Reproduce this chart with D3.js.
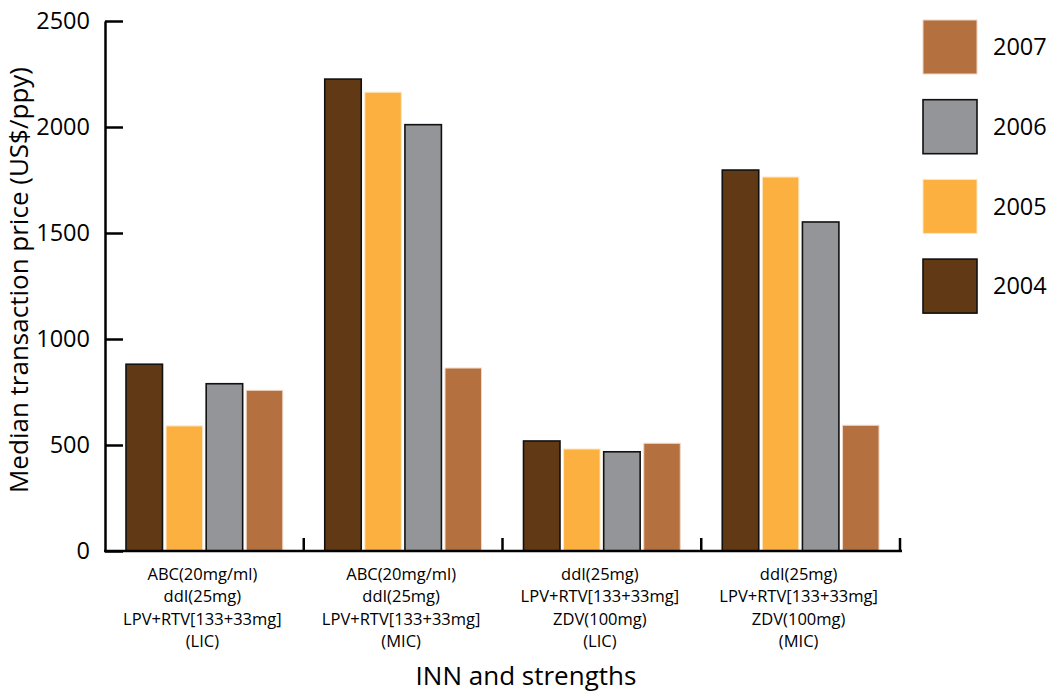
<!DOCTYPE html>
<html>
<head>
<meta charset="utf-8">
<script src="https://cdn.jsdelivr.net/npm/d3@7"></script>
<style>
  html, body { margin: 0; padding: 0; background: #fff; }
  svg { display: block; font-family: "Open Sans", "Noto Sans", sans-serif; }
</style>
</head>
<body>
<svg id="chart" width="1049" height="692"></svg>
<script>
const categories = [
  ["ABC(20mg/ml)", "ddI(25mg)", "LPV+RTV[133+33mg]", "(LIC)"],
  ["ABC(20mg/ml)", "ddI(25mg)", "LPV+RTV[133+33mg]", "(MIC)"],
  ["ddI(25mg)", "LPV+RTV[133+33mg]", "ZDV(100mg)", "(LIC)"],
  ["ddI(25mg)", "LPV+RTV[133+33mg]", "ZDV(100mg)", "(MIC)"]
];
const years = ["2004", "2005", "2006", "2007"];
const values2004 = [881, 2226, 519, 1797];
const values2005 = [590, 2164, 481, 1764];
const values2006 = [789, 2011, 468, 1552];
const values2007 = [758, 863, 508, 593];
const yTicks = [0, 500, 1000, 1500, 2000, 2500];
const colors = ["#613914", "#FBB040", "#939598", "#B5703F"];
const strokes = ["#111", "#fde6c4", "#111", "#f0d6c4"];

const series = [values2004, values2005, values2006, values2007];
const catIds = categories.map((c, i) => "c" + i);

const svg = d3.select("#chart");
const mLeft = 105, mRight = 900, mTop = 21, mBottom = 551;

const x = d3.scaleBand().domain(catIds).range([mLeft, mRight]).paddingInner(0).paddingOuter(0);
const bw = x.bandwidth();
const x1 = d3.scaleBand().domain(years).range([21, bw - 21]).paddingInner(0.09).paddingOuter(0);
const y = d3.scaleLinear().domain([0, 2500]).range([mBottom, mTop]);

// bars
const groups = svg.append("g").selectAll("g").data(catIds).join("g")
  .attr("transform", d => `translate(${x(d)},0)`);
groups.selectAll("rect").data((d, i) => years.map((yr, j) => ({yr, j, v: series[j][i]})))
  .join("rect")
  .attr("x", d => x1(d.yr))
  .attr("y", d => y(d.v))
  .attr("width", x1.bandwidth())
  .attr("height", d => y(0) - y(d.v))
  .attr("fill", d => colors[d.j])
  .attr("stroke", d => strokes[d.j])
  .attr("stroke-width", d => (d.j === 0 || d.j === 2) ? 1.6 : 1);

// y axis
const yAxis = d3.axisLeft(y).tickValues(yTicks).tickSizeInner(-18).tickSizeOuter(0).tickPadding(15)
  .tickFormat(d3.format("d"));
const gy = svg.append("g").attr("transform", `translate(${mLeft},0)`).call(yAxis);
gy.select(".domain").attr("stroke", "#000").attr("stroke-width", 2.5);
gy.selectAll(".tick line").attr("stroke", "#000").attr("stroke-width", 2.5);
gy.selectAll(".tick text").attr("font-size", 23.5).attr("fill", "#000")
  .attr("font-family", "'Open Sans', sans-serif");

// x axis
const xAxis = d3.axisBottom(x).tickSize(0).tickFormat("");
const gx = svg.append("g").attr("transform", `translate(0,${mBottom})`).call(xAxis);
gx.select(".domain").attr("stroke", "#000").attr("stroke-width", 2.5)
  .attr("d", `M${mLeft - 1},0H${mRight + 2}`);
gx.selectAll(".tick line").remove();
gx.selectAll(".bnd").data(catIds).join("line")
  .attr("class", "bnd")
  .attr("x1", d => x(d) + bw).attr("x2", d => x(d) + bw)
  .attr("y1", 0).attr("y2", -13)
  .attr("stroke", "#000").attr("stroke-width", 2.5);

// category labels
const lab = svg.append("g").selectAll("text").data(catIds).join("text")
  .attr("x", d => x(d) + bw / 2 - 2)
  .attr("y", 580)
  .attr("text-anchor", "middle")
  .attr("font-size", 16.5)
  .attr("fill", "#000");
lab.selectAll("tspan").data((d, i) => categories[i]).join("tspan")
  .attr("x", function() { return d3.select(this.parentNode).attr("x"); })
  .attr("dy", (d, i) => i === 0 ? 0 : 22.4)
  .text(d => d);

// axis titles
svg.append("text")
  .attr("transform", `translate(28,280) rotate(-90)`)
  .attr("text-anchor", "middle")
  .attr("font-size", 26)
  .attr("fill", "#000")
  .text("Median transaction price (US$/ppy)");
svg.append("text")
  .attr("x", 526).attr("y", 685)
  .attr("text-anchor", "middle")
  .attr("font-size", 26)
  .attr("fill", "#000")
  .text("INN and strengths");

// legend
const legendOrder = [3, 2, 1, 0];
const lg = svg.append("g").selectAll("g").data(legendOrder).join("g")
  .attr("transform", (d, i) => `translate(923,${20 + i * 79.7})`);
lg.append("rect").attr("width", 54).attr("height", 54)
  .attr("fill", d => colors[d])
  .attr("stroke", d => strokes[d])
  .attr("stroke-width", d => (d === 0 || d === 2) ? 1.6 : 1);
lg.append("text").attr("x", 70).attr("y", 27).attr("dy", "0.35em")
  .attr("font-size", 23.5).attr("fill", "#000")
  .text(d => years[d]);
</script>
</body>
</html>
